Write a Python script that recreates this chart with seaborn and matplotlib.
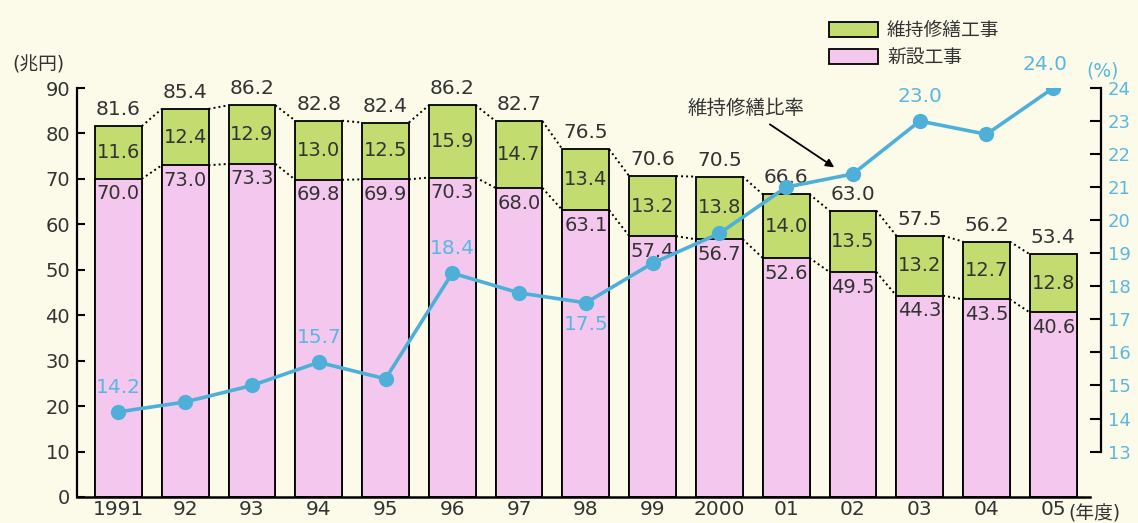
import numpy as np
import pandas as pd
import matplotlib.pyplot as plt
import seaborn as sns
from matplotlib.patches import Patch

years = ['1991', '92', '93', '94', '95', '96', '97', '98', '99', '2000', '01', '02', '03', '04', '05']
new_work = [70.0, 73.0, 73.3, 69.8, 69.9, 70.3, 68.0, 63.1, 57.4, 56.7, 52.6, 49.5, 44.3, 43.5, 40.6]
repair_work = [11.6, 12.4, 12.9, 13.0, 12.5, 15.9, 14.7, 13.4, 13.2, 13.8, 14.0, 13.5, 13.2, 12.7, 12.8]
totals = [81.6, 85.4, 86.2, 82.8, 82.4, 86.2, 82.7, 76.5, 70.6, 70.5, 66.6, 63.0, 57.5, 56.2, 53.4]
repair_ratio = [14.2, 14.5, 15.0, 15.7, 15.2, 18.4, 17.8, 17.5, 18.7, 19.6, 21.0, 21.4, 23.0, 22.6, 24.0]
ratio_labeled = [0, 3, 5, 7, 12, 14]

bg = '#fcfbea'
pink = '#f4c8ee'
green = '#c3dc70'
blue = '#4eb0d8'
blue_txt = '#5ab8e0'
txt = '#333333'

sns.set_style('white')
plt.rcParams['font.family'] = ['DejaVu Sans', 'Noto Sans CJK JP']

df = pd.DataFrame({'year': years, 'new': new_work, 'repair': repair_work, 'total': totals})

fig = plt.figure(figsize=(11.38, 5.23), dpi=100, facecolor=bg)
ax = fig.add_axes([77 / 1138, 26 / 523, (1090 - 77) / 1138, (497 - 88) / 523])
ax.set_facecolor(bg)

bw = 0.70
sns.barplot(data=df, x='year', y='total', color=green, saturation=1, width=bw,
            edgecolor='black', linewidth=1.3, ax=ax)
sns.barplot(data=df, x='year', y='new', color=pink, saturation=1, width=bw,
            edgecolor='black', linewidth=1.3, ax=ax)

# dotted connectors between neighbouring bars
for i in range(len(years) - 1):
    for vals in (totals, new_work):
        ax.plot([i + bw / 2, i + 1 - bw / 2], [vals[i], vals[i + 1]],
                ls=(0, (1, 1.6)), color='black', lw=1.4, zorder=3)

for i in range(len(years)):
    ax.annotate(f'{totals[i]:.1f}', (i, totals[i]), xytext=(0, 5), textcoords='offset points',
                ha='center', va='bottom', fontsize=14.5, color=txt)
    ax.text(i, new_work[i] + repair_work[i] / 2, f'{repair_work[i]:.1f}', ha='center', va='center',
            fontsize=14, color=txt, zorder=4)
    ax.annotate(f'{new_work[i]:.1f}', (i, new_work[i]), xytext=(0, -4), textcoords='offset points',
                ha='center', va='top', fontsize=14, color=txt, zorder=4)

ax.set_xlim(-0.62, 14.55)
ax.set_ylim(0, 90)
ax.set_yticks(range(0, 91, 10))
ax.set_xlabel('')
ax.set_ylabel('')
for s in ['top', 'right']:
    ax.spines[s].set_visible(False)
ax.spines['left'].set_color('black')
ax.spines['bottom'].set_color('black')
ax.spines['left'].set_linewidth(1.6)
ax.spines['bottom'].set_linewidth(1.8)
ax.tick_params(axis='y', direction='in', length=6, width=1.5, color='black',
               labelsize=14, labelcolor=txt, pad=5)
ax.tick_params(axis='x', length=0, labelsize=14.5, labelcolor=txt, pad=2)

# ratio line on the right axis
ax2 = ax.twinx()
sns.lineplot(x=np.arange(len(years)), y=repair_ratio, color=blue, lw=2.6, marker='o',
             markersize=11, markeredgewidth=0, ax=ax2, zorder=5)
ax2.set_ylim(11.625, 24)
ax2.set_yticks(range(13, 25))
for s in ['top', 'left', 'bottom']:
    ax2.spines[s].set_visible(False)
ax2.spines['right'].set_position(('outward', 8))
ax2.spines['right'].set_color('black')
ax2.spines['right'].set_linewidth(1.6)
ax2.spines['right'].set_bounds(13, 24)
ax2.tick_params(axis='y', direction='in', length=8, width=1.5, color='black',
                labelsize=13, labelcolor=blue_txt, pad=5)
ax2.set_ylabel('')

offsets = {0: (0, 11), 3: (0, 11), 5: (0, 11), 7: (0, -9), 12: (0, 11), 14: (-6, 10)}
for i in ratio_labeled:
    dx, dy = offsets[i]
    ax2.annotate(f'{repair_ratio[i]:.1f}', (i, repair_ratio[i]), xytext=(dx, dy),
                 textcoords='offset points', ha='center', va='bottom' if dy > 0 else 'top',
                 fontsize=14.5, color=blue_txt)

ax2.annotate('維持修繕比率', xy=(10.72, 21.6), xytext=(9.4, 23.38), ha='center', va='center',
             fontsize=14, color=txt,
             arrowprops=dict(arrowstyle='-|>', color='black', lw=1.3, shrinkA=4, shrinkB=0,
                             mutation_scale=12))

fig.text(12 / 1138, 1 - 65 / 523, '(兆円)', fontsize=13.5, color=txt, va='center', ha='left')
fig.text(1086 / 1138, 1 - 71 / 523, '(%)', fontsize=13.5, color=blue_txt, va='center', ha='left')
fig.text(1068 / 1138, 1 - 514 / 523, '(年度)', fontsize=13.5, color=txt, va='center', ha='left')

handles = [Patch(facecolor=green, edgecolor='black', lw=1.3, label='維持修繕工事'),
           Patch(facecolor=pink, edgecolor='black', lw=1.3, label='新設工事')]
fig.legend(handles=handles, loc='upper left', bbox_to_anchor=(812 / 1138, 1 - 4 / 523),
           frameon=False, fontsize=13.5, handlelength=2.6, handleheight=0.85,
           labelspacing=0.45, handletextpad=0.5, labelcolor=txt)

fig.savefig('out.png', dpi=100, facecolor=bg)
